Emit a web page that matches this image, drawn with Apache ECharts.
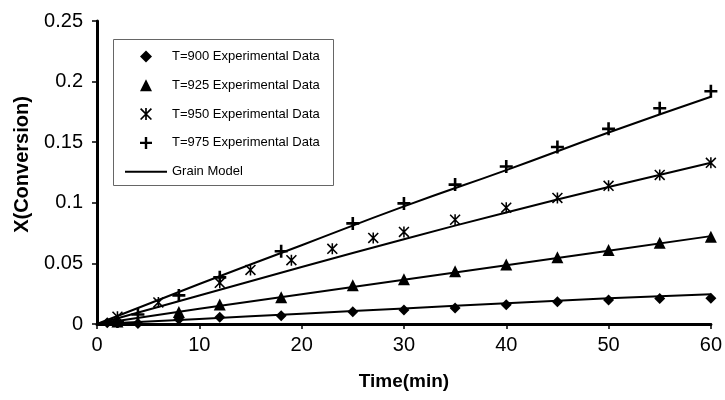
<!DOCTYPE html>
<html>
<head>
<meta charset="utf-8">
<script src="https://cdn.jsdelivr.net/npm/echarts@6/dist/echarts.min.js"></script>
<style>
  html, body { margin: 0; padding: 0; background: #fff; }
  #chart { width: 725px; height: 400px; }
</style>
</head>
<body>
<div id="chart"></div>
<script>
// experimental points [time, X]
var t900 = [[1, 0.001], [4, 0.0005], [8, 0.004], [12, 0.0055], [18, 0.0068], [25, 0.0101], [30, 0.0115], [35, 0.0131], [40, 0.0159], [45, 0.0183], [50, 0.0197], [55, 0.021], [60, 0.0213]];
var t925 = [[2, 0.002], [8, 0.010], [12, 0.016], [18, 0.022], [25, 0.032], [30, 0.037], [35, 0.0436], [40, 0.049], [45, 0.055], [50, 0.061], [55, 0.067], [60, 0.072]];
var t950 = [[2, 0.006], [6, 0.0178], [12, 0.034], [15, 0.0446], [19, 0.0527], [23, 0.062], [27, 0.071], [30, 0.076], [35, 0.086], [40, 0.096], [45, 0.104], [50, 0.114], [55, 0.123], [60, 0.133]];
var t975 = [[2, 0.002], [4, 0.0078], [8, 0.0236], [12, 0.0385], [18, 0.060], [25, 0.083], [30, 0.0995], [35, 0.115], [40, 0.130], [45, 0.146], [50, 0.161], [55, 0.178], [60, 0.192]];

// grain model curves
var modelTime = [0, 10, 20, 30, 40, 50, 60];
var model900 = [0, 0.0042, 0.0085, 0.0128, 0.0171, 0.0212, 0.0245];
var model925 = [0, 0.0125, 0.0245, 0.0365, 0.0485, 0.0605, 0.0725];
var model950 = [0, 0.0235, 0.047, 0.070, 0.092, 0.113, 0.133];
var model975 = [0, 0.033, 0.065, 0.097, 0.127, 0.158, 0.1875];

var legendNames = ['T=900 Experimental Data', 'T=925 Experimental Data', 'T=950 Experimental Data', 'T=975 Experimental Data', 'Grain Model'];

// filled marker shapes, so legend rows stay the same height
var diamondPath = 'path://M5,0 L10,5 L5,10 L0,5 Z';
var trianglePath = 'path://M5,0 L10,10 L0,10 Z';
var plusPath = 'path://M4,0 H6 V4 H10 V6 H6 V10 H4 V6 H0 V4 H4 Z';
var starPath = 'path://M0,1 L1,0 L10,9 L9,10 Z M9,0 L10,1 L1,10 L0,9 Z M4.3,0 L5.7,0 L5.7,10 L4.3,10 Z';
var linePath = 'path://M0,0 H42 V2 H0 Z';

function pairs(xs, ys) {
    return xs.map(function (x, i) { return [x, ys[i]]; });
}

function modelSeries(ys) {
    return {
        name: 'Grain Model', type: 'line', data: pairs(modelTime, ys),
        smooth: true, symbol: 'none', silent: true,
        lineStyle: { color: '#000', width: 2 }, itemStyle: { color: '#000' }
    };
}

function pointSeries(i, data, symbol, size) {
    return {
        name: legendNames[i], type: 'scatter', data: data,
        symbol: symbol, symbolSize: size,
        itemStyle: { color: '#000', opacity: 1 }
    };
}

var chart = echarts.init(document.getElementById('chart'));
chart.setOption({
    animation: false,
    backgroundColor: '#fff',
    textStyle: { fontFamily: 'Liberation Sans, Arial, sans-serif' },
    grid: { left: 97, right: 13, top: 21, bottom: 76 },
    graphic: [{
        type: 'rect', shape: { x: 113.5, y: 39.5, width: 220, height: 146 },
        style: { fill: 'none', stroke: '#666', lineWidth: 1 }, z: 1
    }],
    legend: {
        orient: 'vertical', left: 120, top: 45,
        itemWidth: 42, itemHeight: 12, itemGap: 15.8,
        symbolKeepAspect: true,
        data: [
            { name: legendNames[0], icon: diamondPath },
            { name: legendNames[1], icon: trianglePath },
            { name: legendNames[2], icon: starPath },
            { name: legendNames[3], icon: plusPath },
            { name: legendNames[4], icon: linePath, itemStyle: { color: '#000' } }
        ],
        textStyle: { fontSize: 13, color: '#000', lineHeight: 12 }
    },
    xAxis: [{
        type: 'value', min: 0, max: 60, interval: 10,
        name: 'Time(min)', nameLocation: 'middle', nameGap: 48,
        nameTextStyle: { fontSize: 19, fontWeight: 'bold', color: '#000' },
        axisLine: { onZero: false, lineStyle: { color: '#000', width: 2 } },
        axisTick: { show: true, length: 5, lineStyle: { color: '#000', width: 1.5 } },
        axisLabel: { fontSize: 20, color: '#000', margin: 11 },
        splitLine: { show: false }
    }, {
        type: 'value', position: 'top', min: 0, max: 60,
        axisLine: { show: true, lineStyle: { color: '#000', width: 3 } },
        axisTick: { show: false }, axisLabel: { show: false }, splitLine: { show: false }
    }],
    yAxis: [{
        type: 'value', min: 0, max: 0.25, interval: 0.05,
        name: 'X(Conversion)', nameLocation: 'middle', nameGap: 65,
        nameTextStyle: { fontSize: 20, fontWeight: 'bold', color: '#000', padding: [0, 0, 0, 16] },
        axisLine: { show: true, onZero: false, lineStyle: { color: '#000', width: 3 } },
        axisTick: { show: true, length: 5, lineStyle: { color: '#000', width: 1.5 } },
        axisLabel: { fontSize: 20, color: '#000', margin: 14 },
        splitLine: { show: false }
    }, {
        type: 'value', position: 'right', min: 0, max: 0.25,
        axisLine: { show: true, lineStyle: { color: '#000', width: 2 } },
        axisTick: { show: false }, axisLabel: { show: false }, splitLine: { show: false }
    }],
    series: [
        modelSeries(model900), modelSeries(model925), modelSeries(model950), modelSeries(model975),
        pointSeries(0, t900, diamondPath, 11),
        pointSeries(1, t925, trianglePath, 12),
        pointSeries(2, t950, starPath, 11),
        pointSeries(3, t975, plusPath, 13)
    ]
});
</script>
</body>
</html>
